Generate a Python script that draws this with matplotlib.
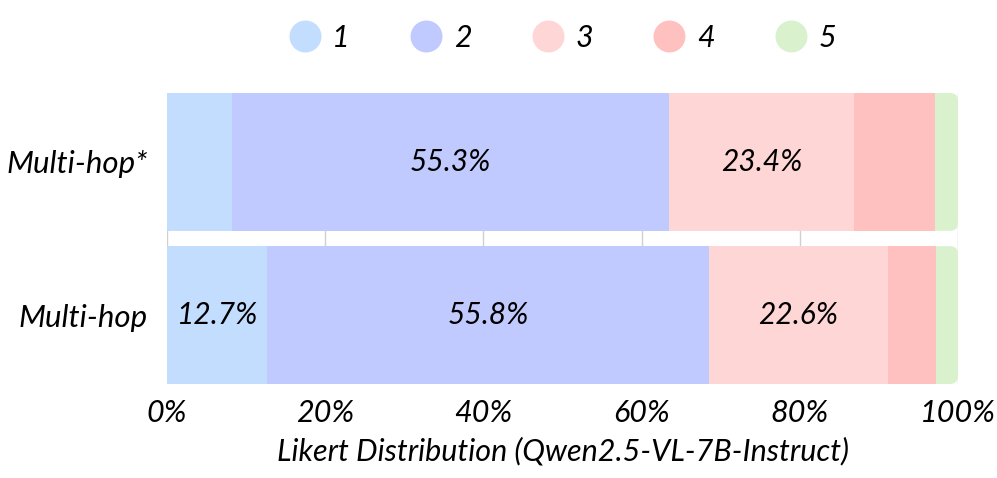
import matplotlib.pyplot as plt
from matplotlib.patches import FancyBboxPatch
from matplotlib.lines import Line2D
import numpy as np

categories = ['Multi-hop*', 'Multi-hop']
scores = ['1', '2', '3', '4', '5']
# percentage per likert score, one row per category
values = [
    [8.2, 55.3, 23.4, 10.2, 2.9],
    [12.7, 55.8, 22.6, 6.1, 2.8],
]
colors = ['#C3DDFF', '#C1CAFF', '#FFD6D6', '#FFC0C0', '#D9F2CD']
xticks = [0, 20, 40, 60, 80, 100]

plt.rcParams['font.family'] = ['Lato', 'DejaVu Sans']
plt.rcParams['font.style'] = 'italic'

fig = plt.figure(figsize=(9.97, 4.78), dpi=100)
ax = fig.add_axes([167/997, 1-384/478, (958-167)/997, (384-93)/478])

bar_h = 0.9
for i, row in enumerate(values):
    left = 0
    for j, v in enumerate(row):
        if j == len(row) - 1:
            # last segment with rounded right end, drawn under previous one
            box = FancyBboxPatch((left - 3, i - bar_h/2), v + 3, bar_h,
                                 boxstyle='round,pad=0,rounding_size=1.0',
                                 mutation_aspect=0.052, fc=colors[j], ec='none', zorder=2)
            ax.add_patch(box)
        else:
            ax.barh(i, v, left=left, height=bar_h, color=colors[j], zorder=3)
        if v > 12:
            ax.text(left + v/2, i, f'{v:.1f}%', ha='center', va='center',
                    fontsize=21.5, zorder=4)
        left += v

ax.set_xlim(0, 100)
ax.set_ylim(1.45, -0.45)
ax.set_yticks(range(len(categories)))
ax.set_yticklabels(categories, fontsize=22.5)
ax.set_xticks(xticks)
ax.set_xticklabels([f'{t}%' for t in xticks], fontsize=22)
ax.tick_params(length=0, pad=14, axis='y')
ax.tick_params(length=0, pad=11, axis='x')
ax.xaxis.grid(True, color='#d0d0d0', lw=1, zorder=0)
ax.set_axisbelow(True)
for s in ax.spines.values():
    s.set_visible(False)
ax.set_xlabel('Likert Distribution (Qwen2.5-VL-7B-Instruct)', fontsize=22, labelpad=7)

handles = [Line2D([], [], ls='none', marker='o', markersize=22, color=c) for c in colors]
fig.legend(handles, scores, loc='center', bbox_to_anchor=(0.563, 1-38/478), ncol=5,
           frameon=False, fontsize=22, handlelength=1.2, handletextpad=0.3,
           columnspacing=1.9)

fig.savefig('out.png', dpi=100)
